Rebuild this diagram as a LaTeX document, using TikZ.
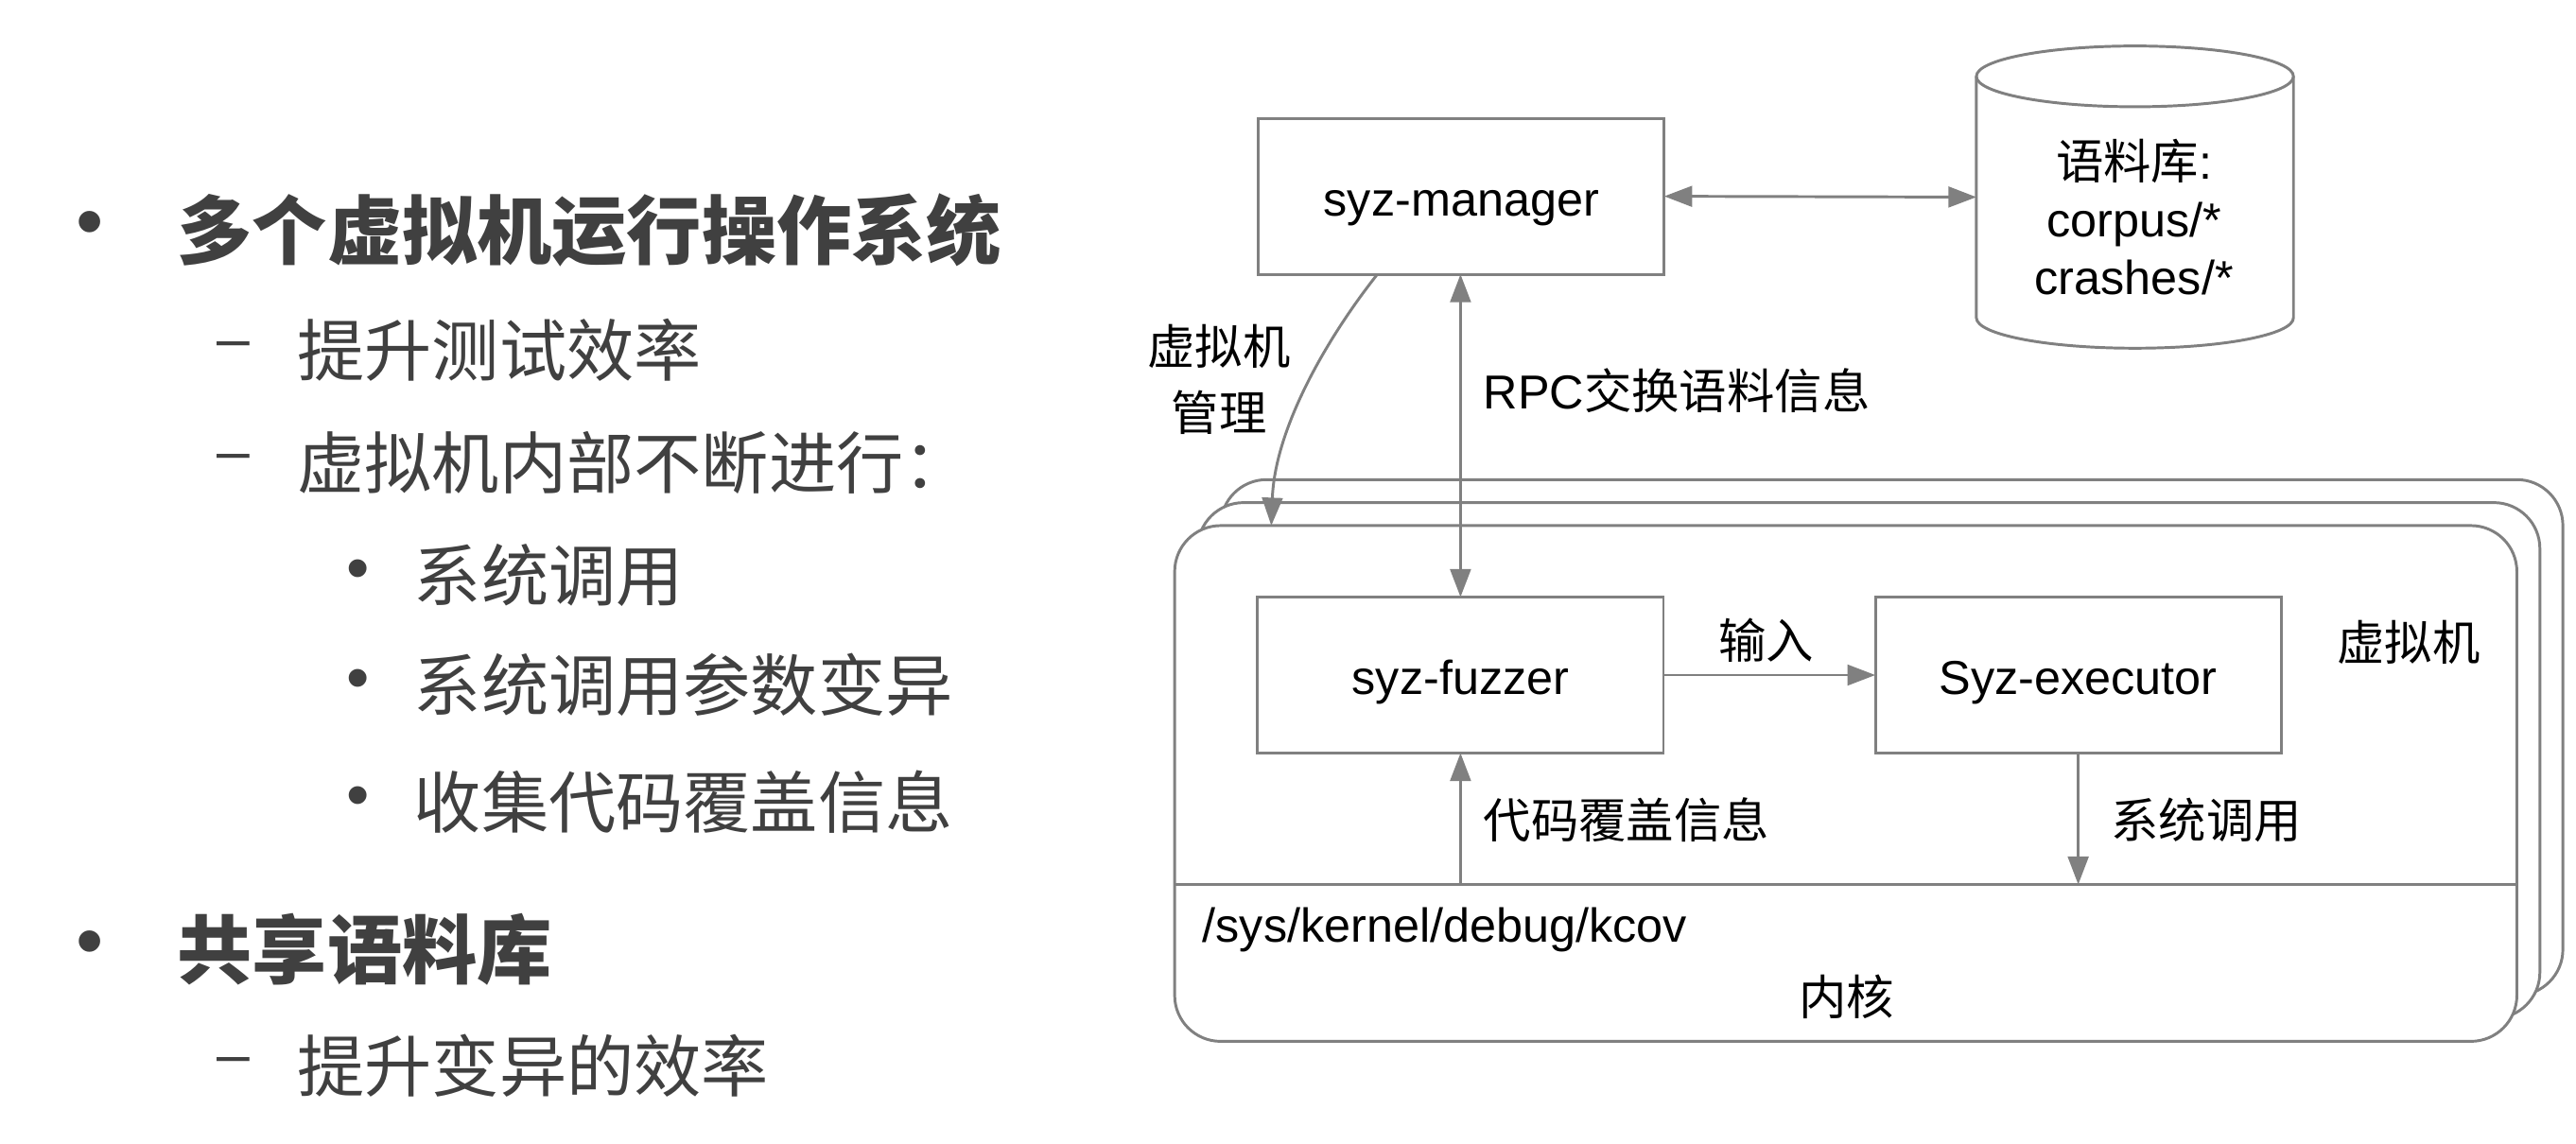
\documentclass[tikz,border=0pt]{standalone}
\usepackage{fontspec}
\setmainfont{Liberation Sans}
\newfontfamily\cjk{Noto Sans CJK SC}
\usetikzlibrary{arrows.meta,calc}
\definecolor{linegray}{HTML}{808080}
\definecolor{txtgray}{HTML}{404040}
\tikzset{
  every node/.style={inner sep=0pt,outer sep=0pt},
  shapeline/.style={draw=linegray,line width=1.7pt},
  box/.style={shapeline,fill=white,minimum width=247pt,minimum height=95pt,text height=28pt,text depth=4pt,font=\fontsize{29}{35}\selectfont},
  vmbox/.style={shapeline,fill=white,rounded corners=28pt,minimum width=817pt,minimum height=314pt},
  conn/.style={draw=linegray,line width=1.7pt,-{Triangle[length=17pt,width=12.5pt]}},
  biconn/.style={draw=linegray,line width=1.7pt,{Triangle[length=17pt,width=12.5pt]}-{Triangle[length=17pt,width=12.5pt]}},
  lab/.style={font=\cjk\fontsize{29}{40}\selectfont,align=center},
  latlab/.style={font=\fontsize{29}{35}\selectfont},
  lvlone/.style={anchor=west,text=txtgray,font=\cjk\bfseries\fontsize{45.6}{50}\selectfont},
  lvltwo/.style={anchor=west,text=txtgray,font=\cjk\fontsize{41}{46}\selectfont},
  bigdot/.style={text=txtgray,font=\fontsize{48}{52}\selectfont},
  smalldot/.style={text=txtgray,font=\fontsize{40}{44}\selectfont},
  dashmark/.style={text=txtgray,font=\fontsize{36}{40}\selectfont}
}
\begin{document}
\begin{tikzpicture}[x=1pt,y=-1pt]
\useasboundingbox[fill=white] (0,0) rectangle (1568,696);

% ---------- left text ----------
\node[bigdot] (b1) at (55,140) {•};
\node[lvlone] (t1) at (108,140) {多个虚拟机运行操作系统};
\node[dashmark] (d1) at (142,213) {–};
\node[lvltwo] (t2) at (181,213) {提升测试效率};
\node[dashmark] (d2) at (142,282) {–};
\node[lvltwo] (t3) at (181,282) {虚拟机内部不断进行：};
\node[smalldot] (b2) at (218,350) {•};
\node[lvltwo] (t4) at (252,350) {系统调用};
\node[smalldot] (b3) at (218,417) {•};
\node[lvltwo] (t5) at (252,417) {系统调用参数变异};
\node[smalldot] (b4) at (218,488) {•};
\node[lvltwo] (t6) at (252,488) {收集代码覆盖信息};
\node[bigdot] (b5) at (55,578) {•};
\node[lvlone] (t7) at (108,578) {共享语料库};
\node[dashmark] (d3) at (142,649) {–};
\node[lvltwo] (t8) at (181,649) {提升变异的效率};

% ---------- VM stack ----------
\node[vmbox] (vm3) at (1151.5,449) {};
\node[vmbox] (vm2) at (1137.5,463) {};
\node[vmbox] (vm) at (1123.5,477) {};
\coordinate (kl) at (715,538.5);
\coordinate (kr) at (1532,538.5);
\draw[shapeline] (kl) -- (kr);

% ---------- boxes ----------
\node[box] (mgr) at (889.5,119.5) {syz-manager};
\node[box] (fz) at (889,411) {syz-fuzzer};
\node[box] (ex) at (1265,411) {Syz-executor};

% ---------- corpus cylinder ----------
\node[minimum width=193pt,minimum height=184pt] (db) at (1299.5,120) {};
\draw[shapeline] (1299.5,46.5) ellipse [x radius=96.5pt, y radius=18.5pt];
\draw[shapeline] (1203,46.5) -- (1203,193.5) arc[start angle=180,end angle=360,x radius=96.5pt,y radius=18.5pt] -- (1396,46.5);
\node[align=center,font=\fontsize{29}{35}\selectfont] (dbt) at (1299,132) {{\cjk 语料库}:\\corpus/*\\crashes/*};

% ---------- connectors ----------
\draw[biconn] (mgr.east) -- (db.west);
\coordinate (m1) at ($(mgr.south west)!0.293!(mgr.south east)$);
\coordinate (v1) at ($(vm.north west)!0.072!(vm.north east)$);
\draw[conn] (m1) .. controls (806,208) and (776,262) .. (v1);
\draw[biconn] (mgr.south -| fz.north) -- (fz.north);
\draw[conn] (fz.east) -- (ex.west);
\draw[conn] (fz.south |- kl) -- (fz.south);
\draw[conn] (ex.south) -- (ex.south |- kl);

% ---------- labels ----------
\node[lab] (l1) at (742,231) {虚拟机\\管理};
\node[anchor=west,font=\fontsize{29}{35}\selectfont] (l2) at (903,238) {RPC{\cjk 交换语料信息}};
\node[lab] (l3) at (1075,390) {输入};
\node[lab] (l4) at (1466,391) {虚拟机};
\node[lab,anchor=west] (l5) at (903,499) {代码覆盖信息};
\node[lab,anchor=west] (l6) at (1285,499) {系统调用};
\node[latlab,anchor=west] (l7) at (732,566) {/sys/kernel/debug/kcov};
\node[lab] (l8) at (1124,607) {内核};
\end{tikzpicture}
\end{document}
